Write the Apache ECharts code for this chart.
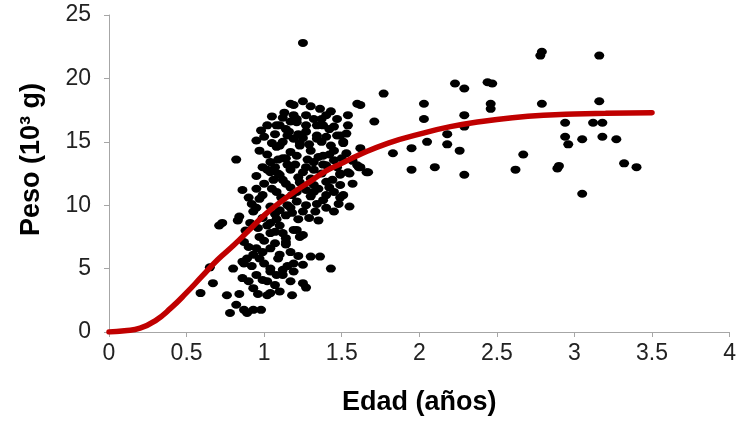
<!DOCTYPE html>
<html>
<head>
<meta charset="utf-8">
<script src="https://cdn.jsdelivr.net/npm/echarts@6/dist/echarts.min.js"></script>
<style>
  html, body { margin: 0; padding: 0; background: #ffffff; }
  #chart { width: 739px; height: 421px; }
</style>
</head>
<body>
<div id="chart"></div>
<script>
// Growth curve (Edad, Peso)
const curveAge    = [0, 0.1, 0.2, 0.3, 0.4, 0.5, 0.6, 0.7, 0.8, 0.9, 1.0, 1.1, 1.2, 1.3, 1.4, 1.5, 1.6, 1.8, 2.0, 2.2, 2.4, 2.6, 2.8, 3.0, 3.2, 3.5];
const curveWeight = [0, 0.1, 0.3, 0.9, 1.9, 3.1, 4.4, 5.7, 6.8, 8.0, 9.2, 10.2, 11.1, 11.9, 12.7, 13.3, 13.9, 14.9, 15.6, 16.2, 16.6, 16.9, 17.1, 17.2, 17.25, 17.3];

// Scattered observations outside the dense cluster [edad, peso]
const outerPoints = [
  [2.79,22.1],[2.78,21.8],[3.16,21.8],[2.23,19.6],[2.29,19.2],[2.44,19.7],[2.47,19.6],[1.77,18.8],
  [2.03,18.0],[2.46,18.0],[2.46,17.6],[2.79,18.0],[3.16,18.2],[1.62,17.9],[1.71,16.6],[2.03,16.8],
  [2.29,17.1],[2.29,16.2],[2.94,16.5],[3.12,16.5],[3.18,16.5],[2.18,15.6],[2.05,15.0],[2.18,14.8],
  [2.94,15.4],[2.96,14.8],[3.05,15.2],[3.18,15.4],[3.27,15.2],[1.95,14.5],[1.83,14.1],[2.26,14.3],
  [1.67,12.6],[1.95,12.8],[2.1,13.0],[2.29,12.4],[2.62,12.8],[2.67,14.0],[2.9,13.1],[2.89,12.9],
  [3.32,13.3],[3.4,13.0],[3.05,10.9],[1.62,14.5],[1.62,13.0],[1.25,22.8],[0.82,13.6]
];

// Dense cluster of observations [edad, peso]
const clusterPoints = [
  [1.17,18.0],[1.25,18.2],[1.19,17.9],[1.36,17.6],[1.6,18.0],[1.27,17.1],[1.4,17.1],[1.54,17.1],
  [1.19,17.1],[1.21,16.55],[1.34,16.3],[1.45,16.2],[1.54,16.3],[1.02,16.3],[1.08,16.3],[1.1,16.3],
  [1.17,16.6],[1.21,16.8],[1.27,16.3],[1.37,16.8],[0.98,15.9],[1.27,15.8],[1.47,15.5],[1.53,15.65],
  [1.19,15.25],[1.34,15.25],[1.15,15.5],[1.34,15.5],[1.49,15.5],[0.95,15.1],[1.23,14.7],[1.43,14.7],
  [1.51,15.0],[1.08,14.6],[1.1,14.7],[1.23,14.9],[1.51,14.9],[0.97,14.3],[1.3,14.3],[1.38,13.9],
  [1.21,13.9],[1.14,13.7],[1.12,13.7],[1.53,14.1],[1.45,13.55],[1.32,13.4],[1.04,13.4],[1.4,13.15],
  [1.6,13.15],[1.66,12.6],[1.55,12.5],[1.49,12.5],[1.02,12.8],[1.09,12.5],[1.17,12.8],[1.06,12.0],
  [1.14,11.7],[1.04,12.6],[1.1,12.4],[1.25,12.6],[1.3,12.1],[1.4,11.85],[1.49,12.4],[1.54,12.6],
  [1.61,13.0],[0.86,11.2],[0.95,11.3],[0.99,10.8],[0.97,10.5],[0.92,10.1],[1.08,11.05],[1.21,11.05],
  [1.21,10.3],[1.32,11.05],[1.4,10.8],[1.45,11.05],[1.51,10.8],[1.49,11.6],[1.49,10.6],[1.55,9.9],
  [1.48,10.1],[1.34,10.1],[1.38,10.4],[1.3,10.7],[1.25,9.5],[1.35,8.8],[1.14,9.2],[1.1,9.6],
  [1.04,9.9],[0.93,9.5],[0.83,8.8],[0.84,9.1],[0.71,8.4],[0.73,8.6],[0.91,8.6],[1.02,8.4],
  [1.04,8.6],[1.1,8.4],[1.04,7.8],[1.07,7.9],[1.19,8.05],[1.21,8.05],[1.25,7.65],[1.23,7.5],
  [1.14,7.4],[0.97,7.5],[1.14,7.1],[0.87,7.1],[0.95,6.6],[1.04,6.6],[1.14,6.9],[0.93,6.1],
  [0.89,5.8],[0.86,5.55],[0.97,5.8],[1.09,5.8],[1.1,6.1],[1.3,5.95],[1.36,5.95],[1.19,5.4],
  [1.25,5.3],[1.43,5.0],[0.86,4.25],[0.95,4.5],[0.99,4.1],[1.04,5.0],[1.04,4.77],[1.12,4.9],
  [1.08,4.5],[1.12,4.5],[1.19,4.77],[1.17,4.0],[1.02,4.0],[0.93,3.46],[0.67,3.85],[0.59,3.07],
  [0.76,2.9],[1.02,2.9],[1.04,3.07],[1.18,2.9],[1.25,3.85],[0.82,2.15],[0.78,1.5],[0.89,1.5],
  [0.93,1.75],[0.98,1.75],[0.87,1.75],[0.65,5.1],[0.87,5.4],[1.27,3.5],
  [1.12,15.0],[1.17,14.2],[1.27,13.0],[1.37,12.5],[1.42,14.0],[1.32,16.8],[1.22,12.2],[1.12,12.0],
  [1.32,11.6],[1.42,11.4],[1.27,11.2],[1.17,11.4],[1.07,13.0],[1.37,15.0],[1.02,14.0],[1.07,15.6],
  [1.22,15.6],[1.42,16.0],[1.29,14.8],[1.2,13.2],[1.35,13.8],[1.14,16.0],[1.0,11.7],[0.95,12.3],
  [1.11,10.6],[1.15,10.0],[1.27,10.0],[1.07,9.3],[0.99,9.0],[1.29,9.0],[1.22,8.9],[1.32,12.8],
  [1.47,13.0],[1.57,11.7],[1.17,9.8],
  [1.05,17.0],[1.13,17.3],[1.3,17.8],[1.43,17.4],[1.47,16.8],[1.0,15.4],[1.05,14.9],[1.16,15.8],
  [1.25,15.3],[1.4,15.4],[1.45,14.3],[1.28,13.6],[1.15,13.2],[1.09,13.6],[0.99,13.0],[1.38,13.2],
  [1.5,13.7],[1.57,13.5],[1.23,11.8],[1.35,11.3],[1.44,12.0],[1.05,11.3],[0.9,10.6],[1.18,10.8],
  [1.4,9.8],[1.45,9.5],[1.33,9.5],[1.18,9.4],[0.95,9.8],[1.08,8.9],[0.88,8.0],[0.96,8.2],
  [1.12,7.8],[1.0,7.2],[1.07,7.0],[0.9,6.7],[0.99,6.3],[1.17,6.3],[1.22,6.0],[0.92,5.2],
  [1.0,5.4],[1.15,5.2],[0.9,4.0],[1.07,3.7],[0.96,3.0],[1.1,3.2],[0.84,3.0],[0.8,5.0],
  [1.12,16.9],[1.38,16.3]
];

const xTitle = 'Edad (años)';
const yTitle = 'Peso (10³ g)';

const chart = echarts.init(document.getElementById('chart'), null, { renderer: 'canvas' });
const FONT = "'Liberation Sans', Arial, sans-serif";
const axisGray = '#a6a6a6';

chart.setOption({
  animation: false,
  backgroundColor: '#ffffff',
  grid: { left: 109, right: 8, top: 15, bottom: 88, containLabel: false },
  xAxis: {
    type: 'value', min: 0, max: 4, interval: 0.5,
    name: xTitle, nameLocation: 'middle', nameGap: 57,
    nameTextStyle: { fontFamily: FONT, fontSize: 27, fontWeight: 'bold', color: '#000' },
    axisLine: { show: true, onZero: false, lineStyle: { color: axisGray, width: 1 } },
    axisTick: { show: true, length: 5, lineStyle: { color: axisGray } },
    axisLabel: { fontFamily: FONT, fontSize: 23, color: '#222', margin: 10 },
    splitLine: { show: false }
  },
  yAxis: {
    type: 'value', min: 0, max: 25, interval: 5,
    name: yTitle, nameLocation: 'middle', nameGap: 64,
    nameTextStyle: { fontFamily: FONT, fontSize: 27, fontWeight: 'bold', color: '#000', padding: [0, 0, 0, 28] },
    axisLine: { show: true, lineStyle: { color: axisGray, width: 1 } },
    axisTick: { show: true, length: 5, lineStyle: { color: axisGray } },
    axisLabel: { fontFamily: FONT, fontSize: 23, color: '#222', margin: 18 },
    splitLine: { show: false }
  },
  series: [
    {
      type: 'scatter',
      data: clusterPoints.concat(outerPoints),
      symbol: 'circle',
      symbolSize: [10, 8],
      itemStyle: { color: '#000000', opacity: 1 },
      z: 2
    },
    {
      type: 'line',
      data: curveAge.map((a, i) => [a, curveWeight[i]]),
      smooth: true,
      showSymbol: false,
      symbol: 'none',
      lineStyle: { color: '#c00000', width: 5.5, cap: 'round' },
      z: 3
    }
  ]
});
</script>
</body>
</html>
